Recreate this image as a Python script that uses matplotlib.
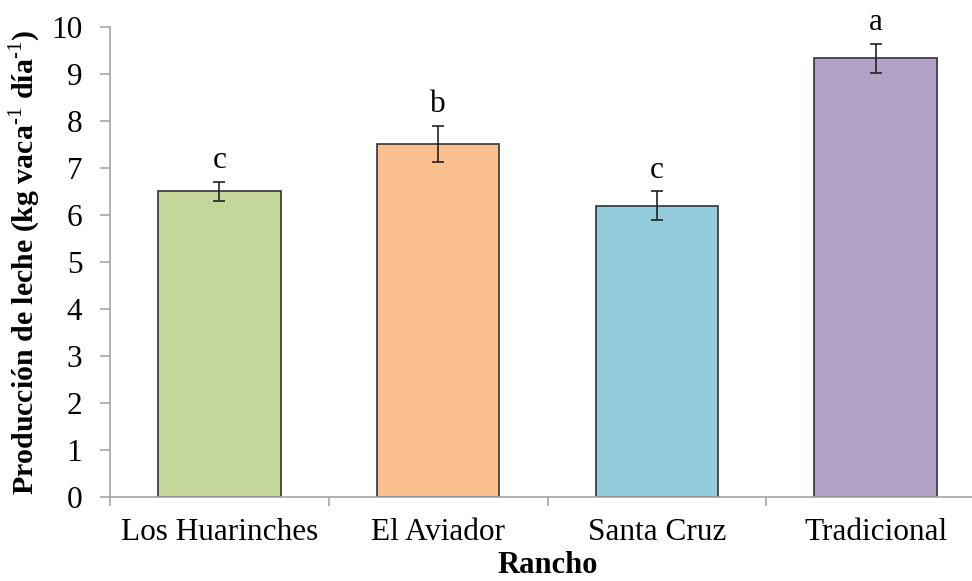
import numpy as np
import matplotlib
matplotlib.use("Agg")
import matplotlib.pyplot as plt

ranchos = ["Los Huarinches", "El Aviador", "Santa Cruz", "Tradicional"]
produccion = [6.50, 7.51, 6.20, 9.33]
error = [0.21, 0.38, 0.30, 0.30]
letras = ["c", "b", "c", "a"]
colores = ["#C4D79B", "#FAC090", "#93CDDD", "#B3A2C7"]

plt.rcParams['font.family'] = ['Liberation Serif', 'DejaVu Serif']
plt.rcParams['mathtext.fontset'] = 'custom'
plt.rcParams['mathtext.rm'] = 'Liberation Serif'
plt.rcParams['mathtext.bf'] = 'Liberation Serif:bold'

fig = plt.figure(figsize=(9.72, 5.81), dpi=100)
ax = fig.add_axes([0.1132, 0.1446, 0.9002, 0.8090])

x = np.arange(len(ranchos))
ax.bar(x, produccion, width=0.56, color=colores, edgecolor="#333333", linewidth=1.2, zorder=2)
ax.errorbar(x, produccion, yerr=error, fmt="none", ecolor="#222222", elinewidth=1.2,
            capsize=4.5, capthick=1.2, zorder=3)

for xi, v, e, l in zip(x, produccion, error, letras):
    ax.annotate(l, (xi, v + e), xytext=(0, 5), textcoords="offset points",
                ha="center", va="bottom", fontsize=22.5)

ax.set_xlim(-0.5, 3.5)
ax.set_ylim(0, 10)
ax.set_yticks(range(0, 11))
ax.set_xticks(x)
ax.set_xticklabels(ranchos)
ax.set_xticks(np.arange(-0.5, 4, 1), minor=True)

for s in ["top", "right"]:
    ax.spines[s].set_visible(False)
for s in ["left", "bottom"]:
    ax.spines[s].set_color("#A6A6A6")
    ax.spines[s].set_linewidth(1.2)

ax.tick_params(axis="y", direction="out", length=7, width=1.2, color="#A6A6A6",
               labelsize=22.5, pad=13)
ax.tick_params(axis="x", which="major", length=0, labelsize=22.5, pad=15)
ax.tick_params(axis="x", which="minor", direction="out", length=6.5, width=1.2, color="#A6A6A6")

ax.set_xlabel("Rancho", fontsize=22, fontweight="bold", labelpad=3)
ax.set_ylabel(r"Producción de leche (kg vaca$^{\mathrm{\text{-1}}}$ día$^{\mathrm{\text{-1}}}$)",
              fontsize=21.5, fontweight="bold", labelpad=6)

fig.savefig("out.png", dpi=100)
